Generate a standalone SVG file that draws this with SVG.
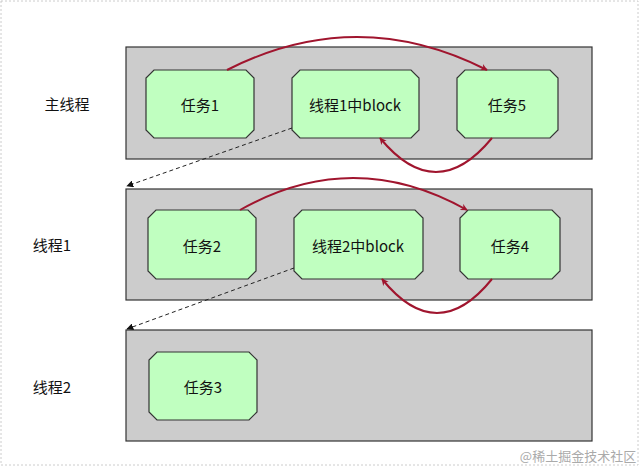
<svg xmlns="http://www.w3.org/2000/svg" width="640" height="466" viewBox="0 0 640 466">
<style>
.lane{fill:#cccccc;stroke:#333;stroke-width:1.2}
.node{fill:#c0ffc0;stroke:#333;stroke-width:1.2}
text{font-family:"Noto Sans CJK SC","Liberation Sans",sans-serif;font-size:15px;fill:#111;text-anchor:middle;dominant-baseline:central}
.red{fill:none;stroke:#a0152e;stroke-width:2}
.dash{fill:none;stroke:#222;stroke-width:1;stroke-dasharray:4 3}
</style>
<defs>
<marker id="ar" viewBox="0 0 10 10" refX="9" refY="5" markerWidth="7" markerHeight="7" orient="auto" markerUnits="userSpaceOnUse"><path d="M0,0 L10,5 L0,10 L3,5 z" fill="#a0152e"/></marker>
<marker id="ak" viewBox="0 0 10 10" refX="9" refY="5" markerWidth="7" markerHeight="7" orient="auto" markerUnits="userSpaceOnUse"><path d="M0,0 L10,5 L0,10 z" fill="#111"/></marker>
</defs>
<rect width="640" height="466" fill="#fff"/>
<rect x="1" y="1" width="637" height="464" fill="none" stroke="#ccc" stroke-dasharray="2 2"/>
<g id="lanes">
<rect class="lane" x="126" y="47" width="466" height="112"/>
<rect class="lane" x="126" y="189" width="466" height="111"/>
<rect class="lane" x="126" y="330" width="466" height="111"/>
<text x="67" y="103">主线程</text><text x="52" y="244">线程1</text><text x="52" y="386">线程2</text>
</g>
<g id="n1"><path class="node" d="M154,70 H246 L254,78 V130 L246,138 H154 L146,130 V78 Z"/><text x="200" y="104">任务1</text></g>
<g id="n2"><path class="node" d="M300,70 H411 L419,78 V130 L411,138 H300 L292,130 V78 Z"/><text x="355" y="104">线程1中block</text></g>
<g id="n3"><path class="node" d="M465,70 H550 L558,78 V130 L550,138 H465 L457,130 V78 Z"/><text x="507" y="104">任务5</text></g>
<g id="n4"><path class="node" d="M156,210 H248 L256,218 V271 L248,279 H156 L148,271 V218 Z"/><text x="202" y="245">任务2</text></g>
<g id="n5"><path class="node" d="M302,210 H415 L423,218 V271 L415,279 H302 L294,271 V218 Z"/><text x="358" y="245">线程2中block</text></g>
<g id="n6"><path class="node" d="M468,210 H552 L560,218 V271 L552,279 H468 L460,271 V218 Z"/><text x="510" y="245">任务4</text></g>
<g id="n7"><path class="node" d="M157,352 H249 L257,360 V412 L249,420 H157 L149,412 V360 Z"/><text x="203" y="386">任务3</text></g>
<g id="connectors">
<path class="red" d="M227,70 Q357,4 487,70" marker-end="url(#ar)"/>
<path class="red" d="M492,138 Q436,206 380,138" marker-end="url(#ar)"/>
<path class="red" d="M240,210 Q353,146 467,210" marker-end="url(#ar)"/>
<path class="red" d="M492,279 Q437,347 382,279" marker-end="url(#ar)"/>
<path class="dash" d="M292,128 L127,186" marker-end="url(#ak)"/>
<path class="dash" d="M294,268 L127,329" marker-end="url(#ak)"/>
</g>
<text x="578" y="455" style="font-size:13px;fill:#aaa">@稀土掘金技术社区</text>
</svg>
